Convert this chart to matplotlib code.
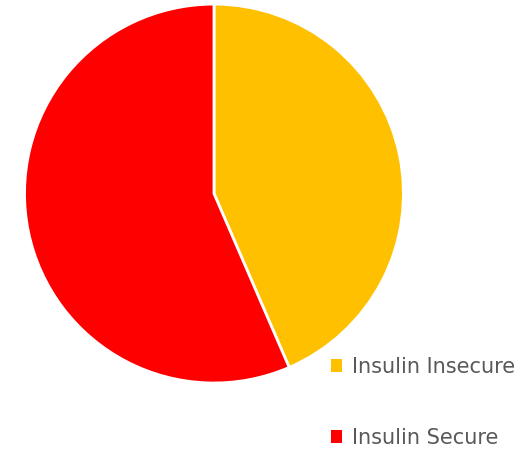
import matplotlib.pyplot as plt

# insulin access share
labels = ['Insulin Insecure', 'Insulin Secure']
shares = [43.5, 56.5]
colors = ['#FFC000', '#FF0000']

fig = plt.figure(figsize=(5.29, 4.5), dpi=100)
ax = fig.add_axes([0.0463, 0.1489, 0.7164, 0.842])

wedges, _ = ax.pie(shares, colors=colors, startangle=90, counterclock=False,
                   wedgeprops=dict(edgecolor='white', linewidth=2))
ax.set_aspect('equal')
ax.set_xlim(-1.0, 1.0)
ax.set_ylim(-1.0, 1.0)

leg = fig.legend(wedges, labels, loc='upper left', bbox_to_anchor=(0.61, 0.225),
                 frameon=False, fontsize=15, labelcolor='#595959',
                 handlelength=0.55, handleheight=0.55, handletextpad=0.45,
                 labelspacing=2.45, borderaxespad=0)
for h in leg.legend_handles:
    h.set_edgecolor('none')

fig.savefig('out.png', dpi=100)
